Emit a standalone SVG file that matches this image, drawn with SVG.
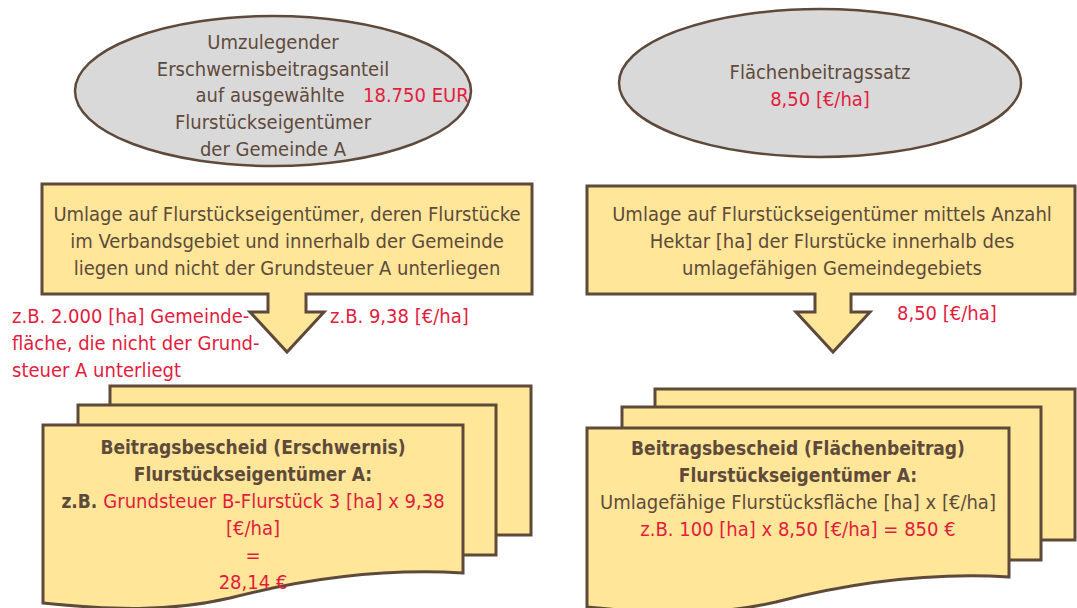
<svg xmlns="http://www.w3.org/2000/svg" width="1077" height="608" viewBox="0 0 1077 608">
  <style>
    .ell { fill: #d9d9d9; stroke: #5e4a3b; stroke-width: 2.5; }
    .box { fill: #ffe699; stroke: #5e4a3b; stroke-width: 3; stroke-linejoin: miter; }
    text { font-family: "DejaVu Sans Condensed", "DejaVu Sans", sans-serif; font-stretch: condensed; font-size: 20px; fill: #5e4a3b; }
    .c { text-anchor: middle; }
    .red { fill: #e31c3d; }
    .b { font-weight: bold; font-size: 19px; }
  </style>

  <!-- top left: share to distribute -->
  <g id="anteil">
    <ellipse class="ell" cx="273" cy="91" rx="198" ry="75"/>
    <text class="c" x="273" y="49">Umzulegender</text>
    <text class="c" x="273" y="76">Erschwernisbeitragsanteil</text>
    <text class="c" x="270" y="102">auf ausgewählte</text>
    <text class="red" x="363" y="102">18.750 EUR</text>
    <text class="c" x="273" y="129">Flurstückseigentümer</text>
    <text class="c" x="273" y="156">der Gemeinde A</text>
  </g>

  <!-- top right: area rate -->
  <g id="satz">
    <ellipse class="ell" cx="820" cy="83" rx="201" ry="74"/>
    <text class="c" x="820" y="79">Flächenbeitragssatz</text>
    <text class="c red" x="820" y="106">8,50 [€/ha]</text>
  </g>

  <!-- left callout with down arrow -->
  <g id="umlage-erschwernis">
    <path class="box" d="M42,184 H532 V294 H306 V312 H324 L287,352 L250,312 H268 V294 H42 Z"/>
    <text class="c" x="287" y="221">Umlage auf Flurstückseigentümer, deren Flurstücke</text>
    <text class="c" x="287" y="248">im Verbandsgebiet und innerhalb der Gemeinde</text>
    <text class="c" x="287" y="275">liegen und nicht der Grundsteuer A unterliegen</text>
  </g>

  <!-- right callout with down arrow -->
  <g id="umlage-flaeche">
    <path class="box" d="M587,186 H1075 V294 H851 V312 H870 L833,352 L796,312 H815 V294 H587 Z"/>
    <text class="c" x="832" y="221">Umlage auf Flurstückseigentümer mittels Anzahl</text>
    <text class="c" x="832" y="248">Hektar [ha] der Flurstücke innerhalb des</text>
    <text class="c" x="832" y="275">umlagefähigen Gemeindegebiets</text>
  </g>

  <!-- arrow annotations -->
  <g id="labels">
    <text class="red" x="12" y="323">z.B. 2.000 [ha] Gemeinde-</text>
    <text class="red" x="12" y="350">fläche, die nicht der Grund-</text>
    <text class="red" x="12" y="377">steuer A unterliegt</text>
    <text class="red" x="330" y="323">z.B. 9,38 [€/ha]</text>
    <text class="red" x="897" y="320">8,50 [€/ha]</text>
  </g>

  <!-- bottom left: stacked notices -->
  <g id="bescheid-erschwernis">
    <rect class="box" x="110" y="386" width="421" height="149"/>
    <rect class="box" x="78" y="405" width="418" height="150"/>
    <path class="box" d="M43,425 H463 V573 C380,568 300,580 230,598 C170,612 110,610 43,603 Z"/>
    <text class="c b" x="253" y="454">Beitragsbescheid (Erschwernis)</text>
    <text class="c b" x="253" y="481">Flurstückseigentümer A:</text>
    <text class="c" x="253" y="508"><tspan class="b">z.B. </tspan><tspan class="red">Grundsteuer B-Flurstück 3 [ha] x 9,38</tspan></text>
    <text class="c red" x="253" y="535">[€/ha]</text>
    <text class="c red" x="253" y="562">=</text>
    <text class="c red" x="253" y="589">28,14 €</text>
  </g>

  <!-- bottom right: stacked notices -->
  <g id="bescheid-flaeche">
    <rect class="box" x="655" y="389" width="420" height="151"/>
    <rect class="box" x="622" y="407" width="419" height="153"/>
    <path class="box" d="M587,428 H1009 V577 C926,572 846,584 776,602 C716,616 656,614 587,607 Z"/>
    <text class="c b" x="798" y="455">Beitragsbescheid (Flächenbeitrag)</text>
    <text class="c b" x="798" y="482">Flurstückseigentümer A:</text>
    <text class="c" x="798" y="509">Umlagefähige Flurstücksfläche [ha] x [€/ha]</text>
    <text class="c red" x="798" y="536">z.B. 100 [ha] x 8,50 [€/ha] = 850 €</text>
  </g>
</svg>
